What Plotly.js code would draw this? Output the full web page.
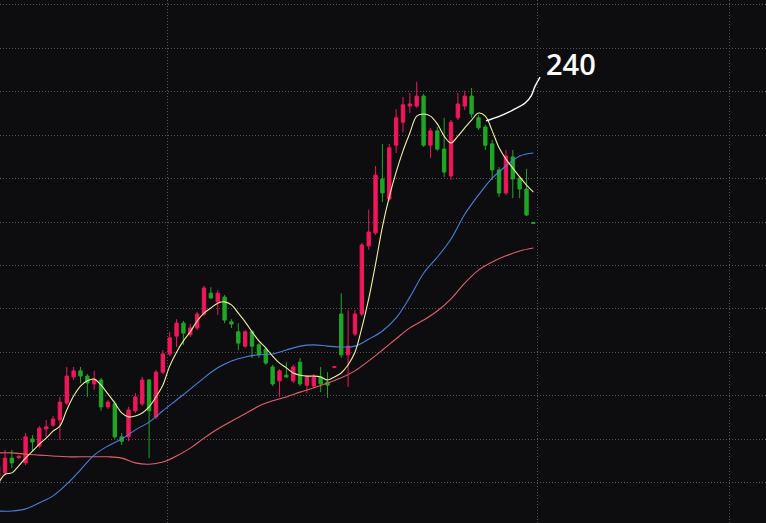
<!DOCTYPE html>
<html>
<head>
<meta charset="utf-8">
<script src="https://cdn.plot.ly/plotly-3.0.1.min.js"></script>
<style>html,body{margin:0;padding:0;background:#0d0d10;}#chart{width:766px;height:523px;}</style>
</head>
<body>
<div id="chart"></div>
<script>
// Candle index (trading sessions)
const idx = [];
for (let i = 0; i <= 78; i++) idx.push(i);

const openP  = [10.08,10.22,10.56,10.57,10.45,11.00,10.84,11.23,11.32,11.44,
                11.83,12.43,12.57,12.45,12.27,12.36,11.74,11.81,11.05,11.05,
                11.65,11.81,12.36,11.51,12.54,12.96,13.37,13.67,13.40,13.56,
                13.88,14.36,14.16,14.27,13.70,13.47,13.14,13.47,13.17,13.07,
                12.66,12.34,12.47,12.34,12.77,12.24,12.22,12.43,12.31,12.65,
                13.88,12.94,13.42,13.88,15.45,15.75,16.99,16.53,17.77,18.30,
                18.67,18.67,18.90,17.77,18.10,17.68,17.06,18.40,18.67,18.90,
                18.40,18.19,17.80,17.20,16.67,17.50,17.01,16.76,15.99];
const highP  = [10.47,10.75,10.75,10.63,11.14,11.09,11.30,11.44,11.53,11.97,
                12.66,12.66,12.66,12.50,12.57,12.41,11.90,11.88,11.14,11.74,
                12.06,12.43,12.38,12.59,13.05,13.47,13.76,13.72,13.65,13.93,
                14.53,14.50,14.43,14.32,13.76,13.67,13.51,13.51,13.21,13.12,
                12.71,12.61,12.77,12.71,12.87,12.47,12.50,12.66,12.54,12.67,
                14.36,13.97,13.97,15.52,16.28,17.29,17.80,17.80,18.60,18.88,
                18.97,19.23,18.95,18.17,18.19,18.40,18.35,18.97,19.02,19.09,
                18.47,18.24,17.89,17.27,17.66,17.66,17.06,17.22,15.99];
const lowP   = [10.01,10.17,10.33,10.54,10.40,10.72,10.79,11.05,11.28,10.98,
                11.78,12.36,12.29,11.97,12.13,11.65,11.69,11.00,10.86,10.95,
                11.60,11.76,10.56,11.46,12.50,12.91,13.12,13.17,13.35,13.51,
                13.83,14.23,13.86,13.67,13.56,13.05,13.10,12.87,12.87,12.71,
                12.22,11.97,12.41,12.29,12.22,12.06,12.18,12.08,11.95,12.65,
                12.87,12.20,13.37,13.83,15.36,15.70,16.46,16.49,17.59,18.07,
                18.51,18.63,17.73,17.48,17.64,17.04,16.97,18.35,18.58,18.40,
                18.12,17.66,16.97,16.58,16.62,16.55,16.55,16.14,15.97];
const closeP = [10.38,10.56,10.45,10.60,11.05,10.93,11.25,11.28,11.46,11.85,
                12.45,12.57,12.45,12.29,12.38,11.74,11.85,11.05,10.95,11.67,
                11.97,12.36,11.65,12.54,12.96,13.33,13.67,13.44,13.56,13.88,
                14.48,14.25,14.36,13.74,13.65,13.21,13.47,13.14,12.94,12.75,
                12.27,12.57,12.43,12.66,12.27,12.43,12.43,12.27,12.24,12.67,
                12.94,13.14,13.88,15.47,15.77,17.08,16.67,17.71,18.40,18.70,
                18.72,18.90,17.77,18.10,17.68,17.15,18.30,18.72,18.90,18.49,
                18.17,17.77,17.20,16.67,17.52,16.99,16.76,16.16,15.97];

// Short moving average (yellow), one value per session
const maShort = [9.96,10.19,10.22,10.38,10.56,10.72,10.88,11.02,11.18,11.30,
                 11.67,11.99,12.22,12.34,12.38,12.24,12.04,11.83,11.60,11.51,
                 11.53,11.60,11.74,11.97,12.24,12.68,13.00,13.26,13.47,13.72,
                 13.90,14.02,14.13,14.16,14.09,13.90,13.70,13.47,13.26,13.10,
                 12.91,12.75,12.64,12.52,12.47,12.45,12.45,12.43,12.36,12.43,
                 12.52,12.71,13.00,13.56,14.23,15.03,15.89,16.58,17.15,17.64,
                 18.05,18.44,18.49,18.44,18.26,17.98,17.82,17.98,18.17,18.35,
                 18.51,18.44,18.10,17.71,17.45,17.24,17.04,16.85,16.69];

// Medium (blue) and long (red) moving averages, every second session
const maIdx = [0,2,4,6,8,10,12,14,16,18,20,22,24,26,28,30,32,34,36,38,
               40,42,44,46,48,50,52,54,56,58,60,62,64,66,68,70,72,74,76,78];
const maMid = [9.34,9.34,9.39,9.53,9.69,9.96,10.29,10.63,10.84,11.00,
               11.21,11.39,11.65,11.90,12.15,12.41,12.64,12.80,12.89,12.94,
               12.96,13.05,13.14,13.17,13.14,13.12,13.14,13.30,13.49,13.79,
               14.27,14.82,15.19,15.61,16.18,16.62,17.01,17.29,17.52,17.59];
const maLong = [10.68,10.68,10.65,10.63,10.61,10.59,10.59,10.59,10.59,10.56,
                10.45,10.42,10.47,10.61,10.79,11.02,11.23,11.41,11.58,11.76,
                11.88,11.97,12.08,12.18,12.29,12.41,12.57,12.80,13.05,13.31,
                13.56,13.74,13.95,14.23,14.59,14.89,15.08,15.22,15.33,15.40];

// 240 line (white) and its label
const line240X = [71.1,73.1,75.0,76.8,77.66,78.25,78.98];
const line240Y = [18.33,18.44,18.58,18.74,18.90,19.13,19.34];
const label240 = "240";

// Vertical period separators (session positions)
const periodMarks = [24.61,78.53,106.65];

const RED = '#f0175a', GREEN = '#1fa626';

const traces = [
  {
    type: 'candlestick', x: idx, open: openP, high: highP, low: lowP, close: closeP,
    increasing: {line: {color: RED, width: 1}, fillcolor: RED},
    decreasing: {line: {color: GREEN, width: 1}, fillcolor: GREEN},
    whiskerwidth: 0, hoverinfo: 'skip', showlegend: false
  },
  {type: 'scatter', mode: 'lines', x: maIdx, y: maLong, line: {color: '#e0606c', width: 1.1, shape: 'spline'}, hoverinfo: 'skip', showlegend: false},
  {type: 'scatter', mode: 'lines', x: maIdx, y: maMid, line: {color: '#4c7fd8', width: 1.1, shape: 'spline'}, hoverinfo: 'skip', showlegend: false},
  {type: 'scatter', mode: 'lines', x: idx, y: maShort, line: {color: '#f3efa2', width: 1.1, shape: 'spline'}, hoverinfo: 'skip', showlegend: false},
  {type: 'scatter', mode: 'lines', x: line240X, y: line240Y, line: {color: '#ffffff', width: 1.4, shape: 'spline'}, hoverinfo: 'skip', showlegend: false}
];

const gridCol = '#55555b';
const layout = {
  width: 766, height: 523,
  margin: {l: 0, r: 0, t: 0, b: 0, pad: 0},
  paper_bgcolor: '#0d0d10', plot_bgcolor: '#0d0d10',
  showlegend: false, hovermode: false,
  xaxis: {
    range: [0.271, 111.9], tickmode: 'array', tickvals: periodMarks,
    showticklabels: false, ticks: '', showgrid: true, gridcolor: gridCol, griddash: '1px,2px', gridwidth: 1,
    zeroline: false, showline: false, rangeslider: {visible: false}, fixedrange: true
  },
  yaxis: {
    range: [9.065, 21.115], tick0: 10, dtick: 1,
    showticklabels: false, ticks: '', showgrid: true, gridcolor: gridCol, griddash: '1px,2px', gridwidth: 1,
    zeroline: false, showline: false, fixedrange: true
  },
  annotations: [{
    x: 79.55, y: 19.66, xref: 'x', yref: 'y', text: label240, showarrow: false,
    xanchor: 'left', yanchor: 'middle',
    font: {family: 'Open Sans, Noto Sans, sans-serif', size: 29, color: '#ffffff', weight: 600}
  }]
};

Plotly.newPlot('chart', traces, layout, {staticPlot: true, displayModeBar: false});
</script>
</body>
</html>
